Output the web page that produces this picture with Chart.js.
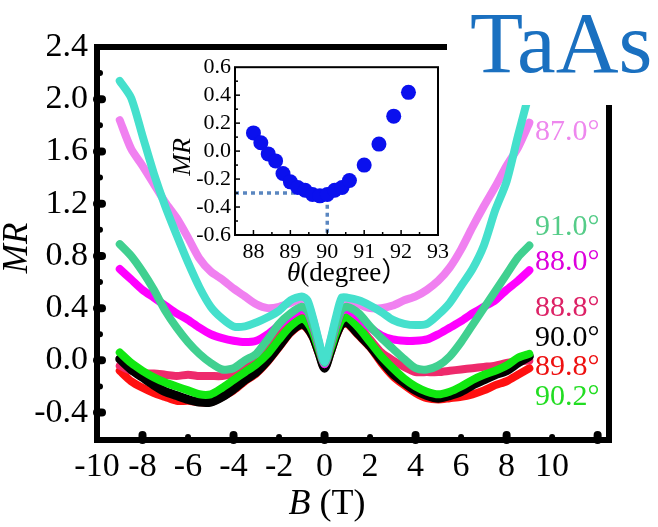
<!DOCTYPE html>
<html>
<head>
<meta charset="utf-8">
<script src="https://cdn.jsdelivr.net/npm/chart.js@4.4.1/dist/chart.umd.min.js"></script>
<style>
  body { margin: 0; background: #fff; font-family: "Liberation Serif"; }
  #wrap { position: relative; width: 658px; height: 527px; }
  #mainChart { position: absolute; left: 0; top: 0; }
  #insetChart { position: absolute; left: 160px; top: 50px; }
</style>
</head>
<body>
<div id="wrap">
  <canvas id="mainChart" width="658" height="527"></canvas>
  <canvas id="insetChart" width="300" height="245"></canvas>
</div>
<script>
// magnetic field (T)
const fields = [-9, -8.5, -8, -7.5, -7, -6.5, -6, -5.5, -5, -4.5, -4, -3.5, -3, -2.5, -2, -1.5, -1,
  -0.75, -0.5, -0.25, 0, 0.25, 0.5, 0.75,
  1, 1.5, 2, 2.5, 3, 3.5, 4, 4.5, 5, 5.5, 6, 6.5, 7, 7.5, 8, 8.5, 9];

// MR(B) for each tilt angle
const mrTurquoise = [2.14, 2.01, 1.72, 1.43, 1.18, 0.96, 0.75, 0.56, 0.41, 0.32, 0.26, 0.26, 0.29, 0.33, 0.38, 0.46, 0.49,
  0.46, 0.32, 0.15, -0.01, 0.15, 0.33, 0.48,
  0.48, 0.46, 0.42, 0.37, 0.31, 0.28, 0.27, 0.28, 0.35, 0.44, 0.57, 0.70, 0.88, 1.15, 1.37, 1.72, 2.05];
const mr870 = [1.84, 1.62, 1.49, 1.35, 1.21, 1.09, 0.94, 0.78, 0.68, 0.62, 0.55, 0.49, 0.43, 0.40, 0.41, 0.44, 0.47,
  0.44, 0.31, 0.14, -0.02, 0.14, 0.31, 0.45,
  0.46, 0.43, 0.40, 0.40, 0.42, 0.46, 0.49, 0.54, 0.61, 0.71, 0.85, 1.02, 1.18, 1.33, 1.49, 1.63, 1.82];
const mr910 = [0.89, 0.80, 0.68, 0.54, 0.38, 0.25, 0.14, 0.05, -0.02, -0.07, -0.06, 0.00, 0.05, 0.16, 0.28, 0.36, 0.41,
  0.38, 0.27, 0.12, -0.02, 0.12, 0.27, 0.39,
  0.41, 0.36, 0.26, 0.17, 0.09, 0.01, -0.06, -0.07, -0.04, 0.03, 0.14, 0.27, 0.40, 0.53, 0.66, 0.79, 0.88];
const mr880 = [0.70, 0.62, 0.54, 0.48, 0.42, 0.36, 0.31, 0.25, 0.20, 0.17, 0.15, 0.14, 0.15, 0.20, 0.27, 0.34, 0.39,
  0.37, 0.26, 0.11, -0.03, 0.11, 0.26, 0.38,
  0.39, 0.33, 0.25, 0.19, 0.16, 0.15, 0.15, 0.16, 0.20, 0.25, 0.30, 0.36, 0.41, 0.46, 0.54, 0.61, 0.69];
const mr888 = [-0.04, -0.08, -0.10, -0.10, -0.11, -0.12, -0.11, -0.12, -0.12, -0.12, -0.10, -0.06, 0.01, 0.10, 0.19, 0.27, 0.33,
  0.31, 0.21, 0.08, -0.04, 0.08, 0.21, 0.31,
  0.33, 0.26, 0.16, 0.06, 0.00, -0.05, -0.09, -0.09, -0.09, -0.08, -0.07, -0.06, -0.05, -0.04, -0.02, -0.01, 0.00];
const mr900 = [0.01, -0.07, -0.13, -0.19, -0.24, -0.27, -0.30, -0.32, -0.32, -0.28, -0.22, -0.15, -0.09, 0.00, 0.11, 0.22, 0.28,
  0.25, 0.18, 0.06, -0.06, 0.06, 0.19, 0.28,
  0.29, 0.20, 0.11, 0.00, -0.10, -0.17, -0.23, -0.27, -0.29, -0.27, -0.24, -0.19, -0.15, -0.11, -0.08, -0.02, 0.03];
const mr898 = [-0.08, -0.16, -0.21, -0.25, -0.28, -0.31, -0.31, -0.32, -0.32, -0.28, -0.23, -0.16, -0.10, -0.01, 0.10, 0.21, 0.27,
  0.24, 0.17, 0.05, -0.06, 0.05, 0.18, 0.27,
  0.28, 0.19, 0.10, -0.02, -0.12, -0.19, -0.25, -0.29, -0.30, -0.29, -0.28, -0.26, -0.23, -0.19, -0.16, -0.11, -0.06];
const mr902 = [0.06, -0.02, -0.08, -0.13, -0.17, -0.20, -0.23, -0.26, -0.26, -0.21, -0.15, -0.09, -0.03, 0.05, 0.16, 0.26, 0.32,
  0.29, 0.21, 0.08, -0.03, 0.08, 0.21, 0.31,
  0.33, 0.25, 0.14, 0.03, -0.06, -0.14, -0.20, -0.24, -0.26, -0.24, -0.20, -0.15, -0.11, -0.08, -0.04, 0.02, 0.05];

// angle labels on the right, top to bottom
const angleLabels = ['87.0°', '91.0°', '88.0°', '88.8°', '90.0°', '89.8°', '90.2°'];
const angleLabelY = [132, 227, 262, 308, 338, 367, 397];
const angleLabelColors = ['#ee88ee', '#55cc88', '#dd00dd', '#dd2266', '#000000', '#ee1111', '#22dd22'];

// axis ticks
const yTickValues = [-0.4, 0.0, 0.4, 0.8, 1.2, 1.6, 2.0, 2.4];
const yMinorMarks = [-0.2, 0.2, 0.6, 1.0, 1.4, 1.8, 2.2];
const xTickValues = [-10, -8, -6, -4, -2, 0, 2, 4, 6, 8, 10];
const xMajorMarks = [-8, -4, 0, 4, 8, 12];
const xMinorMarks = [-6, -2, 2, 6, 10];

// inset: MR at fixed field vs angle
const thetaDeg = [88.0, 88.2, 88.4, 88.6, 88.8, 89.0, 89.2, 89.4, 89.6, 89.8, 90.0, 90.2, 90.4, 90.6, 91.0, 91.4, 91.8, 92.2];
const thetaMR = [0.13, 0.06, -0.02, -0.07, -0.16, -0.22, -0.26, -0.28, -0.31, -0.32, -0.31, -0.28, -0.26, -0.21, -0.10, 0.05, 0.25, 0.42];
const guideTheta = [87.5, 90, 90];
const guideMR = [-0.3, -0.3, -0.6];
const insetXTicks = [88, 89, 90, 91, 92, 93];
const insetYTicks = [-0.6, -0.4, -0.2, 0.0, 0.2, 0.4, 0.6];

const SERIF = '"Liberation Serif"';

function curve(values, color, width) {
  return {
    data: fields.map((b, i) => ({ x: b, y: values[i] })),
    borderColor: color,
    borderWidth: width || 8,
    pointRadius: 0,
    tension: 0.25,
    borderCapStyle: 'round',
    borderJoinStyle: 'round',
    fill: false
  };
}

function tickLine(ctx, x1, y1, x2, y2, w) {
  ctx.lineWidth = w;
  ctx.beginPath();
  ctx.moveTo(x1, y1);
  ctx.lineTo(x2, y2);
  ctx.stroke();
}

const mainDecor = {
  id: 'mainDecor',
  afterDatasetsDraw(chart) {
    const { ctx, chartArea: a, scales: { x, y } } = chart;
    ctx.save();
    ctx.strokeStyle = '#000';
    ctx.lineCap = 'round';
    // inward ticks
    yTickValues.slice(0, -1).forEach(v => tickLine(ctx, a.left, y.getPixelForValue(v), a.left + 5, y.getPixelForValue(v), 8));
    yMinorMarks.forEach(v => tickLine(ctx, a.left, y.getPixelForValue(v), a.left + 3, y.getPixelForValue(v), 6));
    xMajorMarks.forEach(v => tickLine(ctx, x.getPixelForValue(v), a.bottom, x.getPixelForValue(v), a.bottom - 5, 8));
    xMinorMarks.forEach(v => tickLine(ctx, x.getPixelForValue(v), a.bottom, x.getPixelForValue(v), a.bottom - 3, 6));
    // frame
    ctx.lineCap = 'square';
    ctx.lineWidth = 6;
    ctx.strokeRect(a.left, a.top, a.right - a.left, a.bottom - a.top);

    // white box behind the compound name
    ctx.fillStyle = '#fff';
    ctx.fillRect(447, 0, 211, 105);
    ctx.fillStyle = '#1a70c0';
    ctx.font = '87px ' + SERIF;
    ctx.textBaseline = 'alphabetic';
    ctx.textAlign = 'left';
    ctx.fillText('TaAs', 470, 72);

    // angle labels
    ctx.font = '30px ' + SERIF;
    ctx.textBaseline = 'middle';
    angleLabels.forEach((t, i) => {
      ctx.fillStyle = angleLabelColors[i];
      ctx.fillText(t, 535, angleLabelY[i]);
    });

    // axis titles
    ctx.fillStyle = '#000';
    ctx.textAlign = 'center';
    ctx.save();
    ctx.translate(18, 248);
    ctx.rotate(-Math.PI / 2);
    ctx.font = 'italic 35px ' + SERIF;
    ctx.fillText('MR', 0, 0);
    ctx.restore();

    ctx.textAlign = 'left';
    ctx.font = 'italic 36px ' + SERIF;
    const bw = ctx.measureText('B').width;
    ctx.font = '36px ' + SERIF;
    const tw = ctx.measureText(' (T)').width;
    const sx = 327 - (bw + tw) / 2;
    ctx.font = 'italic 36px ' + SERIF;
    ctx.fillText('B', sx, 505);
    ctx.font = '36px ' + SERIF;
    ctx.fillText(' (T)', sx + bw, 505);
    ctx.restore();
  }
};

const insetDecor = {
  id: 'insetDecor',
  afterDatasetsDraw(chart) {
    const { ctx, chartArea: a, scales: { x, y } } = chart;
    ctx.save();
    ctx.strokeStyle = '#000';
    ctx.lineCap = 'butt';
    for (let v = 88; v <= 92.5; v += 0.5) {
      const px = x.getPixelForValue(v);
      tickLine(ctx, px, a.bottom, px, a.bottom - (v % 1 === 0 ? 5 : 3), 1.5);
    }
    for (let k = -5; k <= 5; k++) {
      const py = y.getPixelForValue(k / 10);
      tickLine(ctx, a.left, py, a.left + (k % 2 === 0 ? 5 : 3), py, 1.5);
    }
    ctx.lineWidth = 2;
    ctx.strokeRect(a.left, a.top, a.right - a.left, a.bottom - a.top);

    ctx.fillStyle = '#000';
    ctx.textBaseline = 'middle';
    ctx.save();
    ctx.translate(23, 107);
    ctx.rotate(-Math.PI / 2);
    ctx.textAlign = 'center';
    ctx.font = 'italic 26px ' + SERIF;
    ctx.fillText('MR', 0, 0);
    ctx.restore();

    ctx.textAlign = 'left';
    ctx.font = 'italic 27px ' + SERIF;
    ctx.fillText('θ', 127, 224);
    const tw = ctx.measureText('θ').width;
    ctx.font = '27px ' + SERIF + ', "Noto Sans CJK SC"';
    ctx.fillText('(degree）', 127 + tw, 224);
    ctx.restore();
  }
};

function drawCharts() {
  new Chart(document.getElementById('mainChart'), {
    type: 'line',
    data: {
      datasets: [
        curve(mrTurquoise, '#45e0cc'),
        curve(mr910, '#40d090'),
        curve(mr870, '#f080f0'),
        curve(mr880, '#ff00ff'),
        curve(mr902, '#10e810'),
        curve(mr900, '#000000', 9),
        curve(mr888, '#ee2a6c'),
        curve(mr898, '#ff1010')
      ]
    },
    options: {
      responsive: false,
      animation: false,
      layout: { padding: { left: 0, top: 47, right: 49, bottom: 0 } },
      plugins: { legend: { display: false }, tooltip: { enabled: false } },
      scales: {
        x: {
          type: 'linear',
          min: -10,
          max: 12.5,
          afterFit: s => { s.height = 87; },
          afterBuildTicks: s => { s.ticks = xTickValues.map(v => ({ value: v })); },
          grid: { display: false, drawTicks: false },
          border: { display: false },
          ticks: {
            color: '#000',
            padding: 7,
            maxRotation: 0,
            autoSkip: false,
            font: { family: SERIF, size: 34 },
            callback: v => String(v)
          }
        },
        y: {
          type: 'linear',
          min: -0.61,
          max: 2.4,
          afterFit: s => { s.width = 97; },
          afterBuildTicks: s => { s.ticks = yTickValues.map(v => ({ value: v })); },
          grid: { display: false, drawTicks: false },
          border: { display: false },
          ticks: {
            color: '#000',
            padding: 9,
            autoSkip: false,
            font: { family: SERIF, size: 34 },
            callback: v => v.toFixed(1)
          }
        }
      }
    },
    plugins: [mainDecor]
  });

  new Chart(document.getElementById('insetChart'), {
    type: 'scatter',
    data: {
      datasets: [
        {
          data: thetaDeg.map((t, i) => ({ x: t, y: thetaMR[i] })),
          backgroundColor: '#0a10ee',
          borderWidth: 0,
          pointRadius: 7.5
        },
        {
          type: 'line',
          data: guideTheta.map((t, i) => ({ x: t, y: guideMR[i] })),
          borderColor: '#5a86c0',
          borderWidth: 3.5,
          borderDash: [4, 4],
          pointRadius: 0,
          fill: false
        }
      ]
    },
    options: {
      responsive: false,
      animation: false,
      layout: { padding: { left: 0, top: 15, right: 22, bottom: 0 } },
      plugins: { legend: { display: false }, tooltip: { enabled: false } },
      scales: {
        x: {
          type: 'linear',
          min: 87.5,
          max: 93,
          afterFit: s => { s.height = 60; },
          afterBuildTicks: s => { s.ticks = insetXTicks.map(v => ({ value: v })); },
          grid: { display: false, drawTicks: false },
          border: { display: false },
          ticks: { color: '#000', padding: 4, maxRotation: 0, autoSkip: false, font: { family: SERIF, size: 22 } }
        },
        y: {
          type: 'linear',
          min: -0.6,
          max: 0.6,
          afterFit: s => { s.width = 75; },
          afterBuildTicks: s => { s.ticks = insetYTicks.map(v => ({ value: v })); },
          grid: { display: false, drawTicks: false },
          border: { display: false },
          ticks: { color: '#000', padding: 4, autoSkip: false, font: { family: SERIF, size: 22 }, callback: v => v.toFixed(1) }
        }
      }
    },
    plugins: [insetDecor]
  });
}

// wait for the serif faces before painting the canvases
Promise.all([
  document.fonts.load('34px "Liberation Serif"'),
  document.fonts.load('italic 34px "Liberation Serif"')
]).then(drawCharts, drawCharts);
</script>
</body>
</html>
